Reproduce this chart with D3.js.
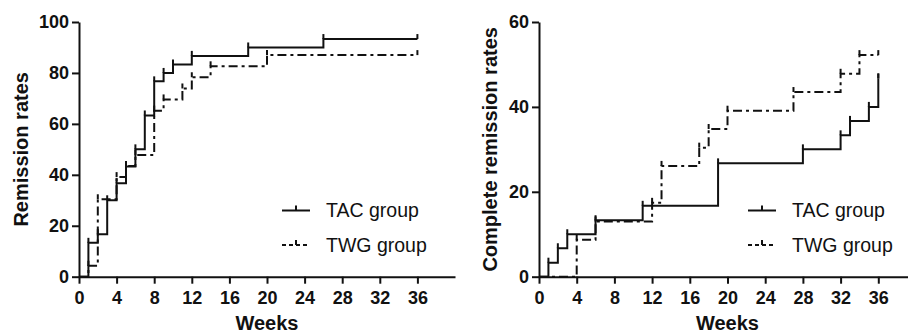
<!DOCTYPE html>
<html>
<head>
<meta charset="utf-8">
<script src="https://cdn.jsdelivr.net/npm/d3@7"></script>
<style>
  body { margin: 0; background: #fff; }
  svg { display: block; font-family: 'Liberation Sans', Arial, sans-serif; }
  .axis path, .axis line { stroke: #111; stroke-width: 2px; }
  .axis text { font-size: 18px; font-weight: bold; fill: #111; font-family: 'Liberation Sans', Arial, sans-serif; }
</style>
</head>
<body>
<svg id="chart" width="908" height="334"></svg>
<script>
const weekTicks = [0, 4, 8, 12, 16, 20, 24, 28, 32, 36];
const remissionTicks = [0, 20, 40, 60, 80, 100];
const completeTicks = [0, 20, 40, 60];
const groupNames = ['TAC group', 'TWG group'];
const lastWeek = 36;

// [week, rate %] at each step
const remissionTAC = [[0, 0], [1, 13.3], [2, 16.7], [3, 30], [4, 36.7], [5, 43.3], [6, 50], [7, 63.3],
  [8, 76.7], [9, 80], [10, 83.3], [12, 86.7], [18, 90], [26, 93.3]];
const remissionTWG = [[0, 0], [1, 4.3], [2, 30.4], [4, 39.1], [5, 43.5], [6, 47.8], [8, 65.2],
  [9, 69.6], [11, 73.9], [12, 78.3], [14, 82.6], [20, 87.0]];
const completeTAC = [[0, 0], [1, 3.3], [2, 6.7], [3, 10], [6, 13.3], [11, 16.7], [19, 26.7],
  [28, 30], [32, 33.3], [33, 36.7], [35, 40], [36, 46.7]];
const completeTWG = [[0, 0], [4, 8.7], [6, 13.0], [12, 17.4], [13, 26.1], [17, 30.4], [18, 34.8],
  [20, 39.1], [27, 43.5], [32, 47.8], [34, 52.2]];

const panels = [
  { left: 79, right: 455, yMax: 100, yTicks: remissionTicks, title: 'Remission rates', titleX: 28,
    series: [remissionTAC, remissionTWG], legendLine: [282, 310], legendText: 326 },
  { left: 539, right: 916, yMax: 60, yTicks: completeTicks, title: 'Complete remission rates', titleX: 497,
    series: [completeTAC, completeTWG], legendLine: [748, 776], legendText: 792 }
];

const plotTop = 22, plotBottom = 276.7, tickLen = 5;
const dash = ['none', '9,4,3,4'];
const legendY = [210.5, 245];

const svg = d3.select('#chart');

for (const p of panels) {
  const x = d3.scaleLinear().domain([0, 40]).range([p.left, p.right]);
  const y = d3.scaleLinear().domain([0, p.yMax]).range([plotBottom, plotTop]);

  svg.append('g')
    .attr('class', 'axis')
    .attr('transform', `translate(0,${plotBottom})`)
    .call(d3.axisBottom(x).tickValues(weekTicks).tickSize(7).tickSizeOuter(0).tickPadding(8));

  svg.append('g')
    .attr('class', 'axis')
    .attr('transform', `translate(${p.left},0)`)
    .call(d3.axisLeft(y).tickValues(p.yTicks).tickSize(7).tickSizeOuter(0).tickPadding(3));

  const line = d3.line()
    .x((d) => x(d[0]))
    .y((d) => y(d[1]))
    .curve(d3.curveStepAfter);

  p.series.forEach((pts, i) => {
    const last = pts[pts.length - 1][1];
    svg.append('path')
      .datum(pts.concat([[lastWeek, last]]))
      .attr('d', line)
      .attr('fill', 'none')
      .attr('stroke', '#111')
      .attr('stroke-width', 2)
      .attr('stroke-dasharray', dash[i]);

    const marks = pts.slice(1).concat([[lastWeek, last]]);
    svg.append('g')
      .selectAll('line')
      .data(marks)
      .join('line')
      .attr('x1', (d) => x(d[0]))
      .attr('x2', (d) => x(d[0]))
      .attr('y1', (d) => y(d[1]))
      .attr('y2', (d) => y(d[1]) - tickLen)
      .attr('stroke', '#111')
      .attr('stroke-width', 2);

    // legend
    const ly = legendY[i];
    const [lx0, lx1] = p.legendLine;
    svg.append('line')
      .attr('x1', lx0).attr('x2', lx1).attr('y1', ly).attr('y2', ly)
      .attr('stroke', '#111').attr('stroke-width', 2)
      .attr('stroke-dasharray', i ? '4,3' : null);
    svg.append('line')
      .attr('x1', (lx0 + lx1) / 2).attr('x2', (lx0 + lx1) / 2)
      .attr('y1', ly).attr('y2', ly - tickLen)
      .attr('stroke', '#111').attr('stroke-width', 2);
    svg.append('text')
      .attr('x', p.legendText)
      .attr('y', ly + 6.5)
      .attr('font-size', 19.5)
      .attr('fill', '#111')
      .text(groupNames[i]);
  });

  svg.append('text')
    .attr('text-anchor', 'middle')
    .attr('transform', `translate(${p.titleX},${(plotTop + plotBottom) / 2})rotate(-90)`)
    .attr('font-size', 20)
    .attr('font-weight', 'bold')
    .attr('fill', '#111')
    .text(p.title);

  svg.append('text')
    .attr('text-anchor', 'middle')
    .attr('x', (p.left + p.right) / 2)
    .attr('y', 330)
    .attr('font-size', 20)
    .attr('font-weight', 'bold')
    .attr('fill', '#111')
    .text('Weeks');
}
</script>
</body>
</html>
